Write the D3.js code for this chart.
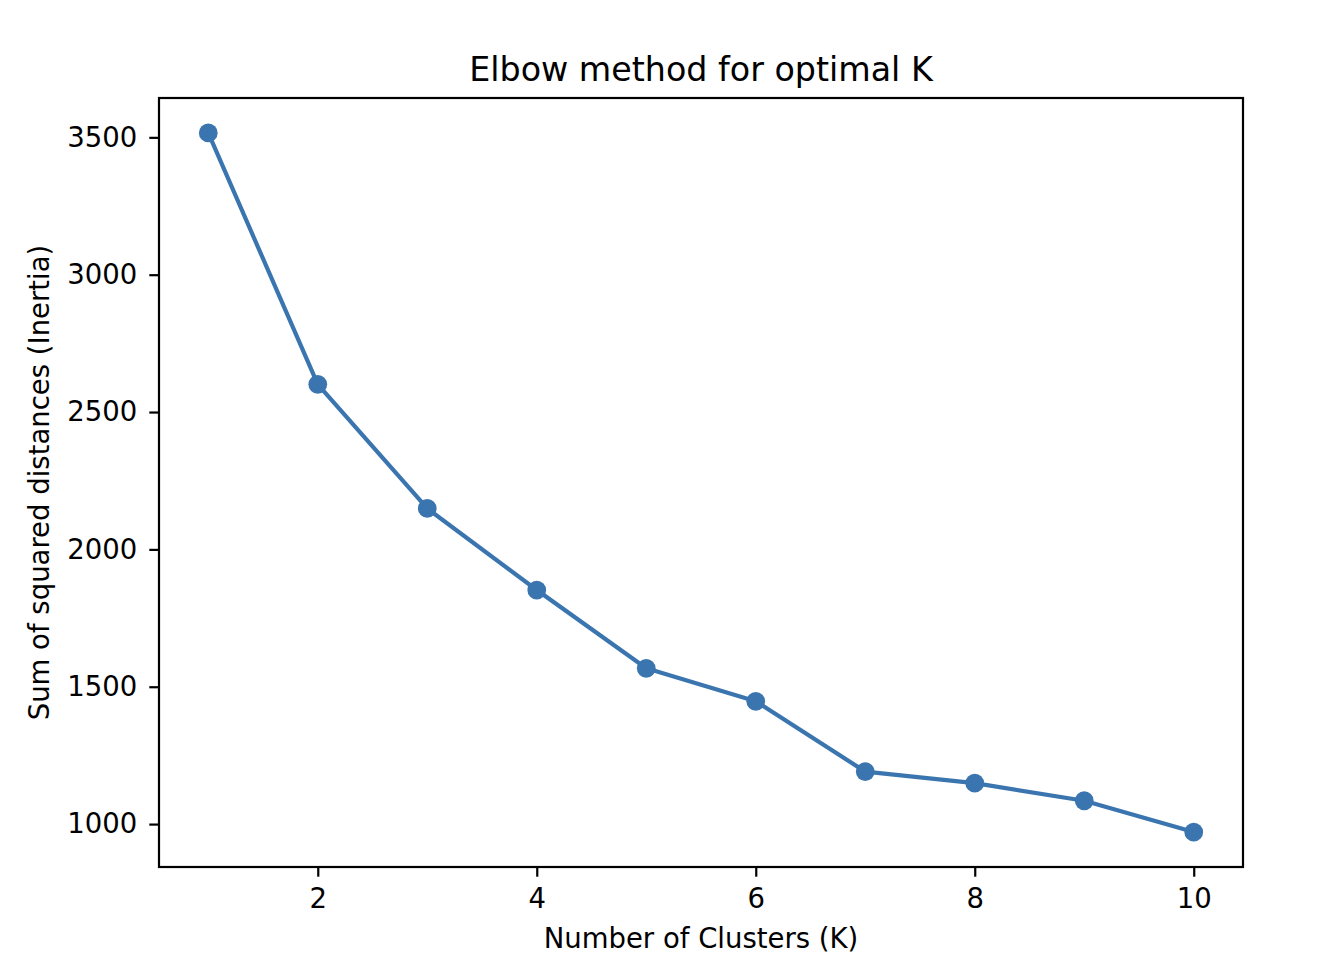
<!DOCTYPE html>
<html>
<head>
<meta charset="utf-8">
<script src="https://cdn.jsdelivr.net/npm/d3@7"></script>
<style>
  html, body { margin: 0; padding: 0; background: #fff; }
  text { font-family: "DejaVu Sans", sans-serif; fill: #000; }
</style>
</head>
<body>
<svg id="chart" width="1324" height="970"></svg>
<script>
const kValues = [1, 2, 3, 4, 5, 6, 7, 8, 9, 10];
const inertia = [3516, 2601, 2149, 1852, 1567, 1447, 1191, 1149, 1085, 971];
const xTicks = [2, 4, 6, 8, 10];
const yTicks = [1000, 1500, 2000, 2500, 3000, 3500];
const titleText = "Elbow method for optimal K";
const xLabel = "Number of Clusters (K)";
const yLabel = "Sum of squared distances (Inertia)";

(function () {
const svg = d3.select("#chart");
const pLeft = 159, pRight = 1243, pTop = 98, pBottom = 867;
const color = "#3b75af";
const fs = 27.5;

const xMin = d3.min(kValues), xMax = d3.max(kValues);
const xPad = (xMax - xMin) * 0.05;
const yMin = d3.min(inertia), yMax = d3.max(inertia);
const yPad = (yMax - yMin) * 0.05;

const x = d3.scaleLinear().domain([xMin - xPad, xMax + xPad]).range([pLeft, pRight]);
const y = d3.scaleLinear().domain([yMin - yPad, yMax + yPad]).range([pBottom, pTop]);

const data = kValues.map((k, i) => ({k, v: inertia[i]}));

svg.append("path")
  .datum(data)
  .attr("fill", "none")
  .attr("stroke", color)
  .attr("stroke-width", 4.2)
  .attr("stroke-linejoin", "round")
  .attr("d", d3.line().x(d => x(d.k)).y(d => y(d.v)));

svg.selectAll("circle.pt")
  .data(data)
  .enter().append("circle")
  .attr("class", "pt")
  .attr("cx", d => x(d.k))
  .attr("cy", d => y(d.v))
  .attr("r", 9.4)
  .attr("fill", color);

const xAxis = d3.axisBottom(x).tickValues(xTicks).tickSize(9.7).tickPadding(11.8).tickFormat(d3.format("d"));
const yAxis = d3.axisLeft(y).tickValues(yTicks).tickSize(9.7).tickPadding(12).tickFormat(d3.format("d"));

const gx = svg.append("g").attr("transform", `translate(0,${pBottom})`).call(xAxis);
const gy = svg.append("g").attr("transform", `translate(${pLeft},0)`).call(yAxis);
[gx, gy].forEach(g => {
  g.select(".domain").remove();
  g.selectAll(".tick line").attr("stroke", "#000").attr("stroke-width", 2.2);
  g.selectAll(".tick text").style("font-size", fs + "px").style("font-family", "DejaVu Sans").attr("fill", "#000");
});

svg.append("rect")
  .attr("x", pLeft).attr("y", pTop)
  .attr("width", pRight - pLeft).attr("height", pBottom - pTop)
  .attr("fill", "none").attr("stroke", "#000").attr("stroke-width", 2.2);

svg.append("text")
  .attr("x", (pLeft + pRight) / 2).attr("y", 81)
  .attr("text-anchor", "middle")
  .style("font-size", "33.3px")
  .text(titleText);

svg.append("text")
  .attr("x", (pLeft + pRight) / 2).attr("y", 948)
  .attr("text-anchor", "middle")
  .style("font-size", fs + "px")
  .text(xLabel);

svg.append("text")
  .attr("transform", `translate(48.5,${(pTop + pBottom) / 2}) rotate(-90)`)
  .attr("text-anchor", "middle")
  .style("font-size", fs + "px")
  .text(yLabel);
})();
</script>
</body>
</html>
